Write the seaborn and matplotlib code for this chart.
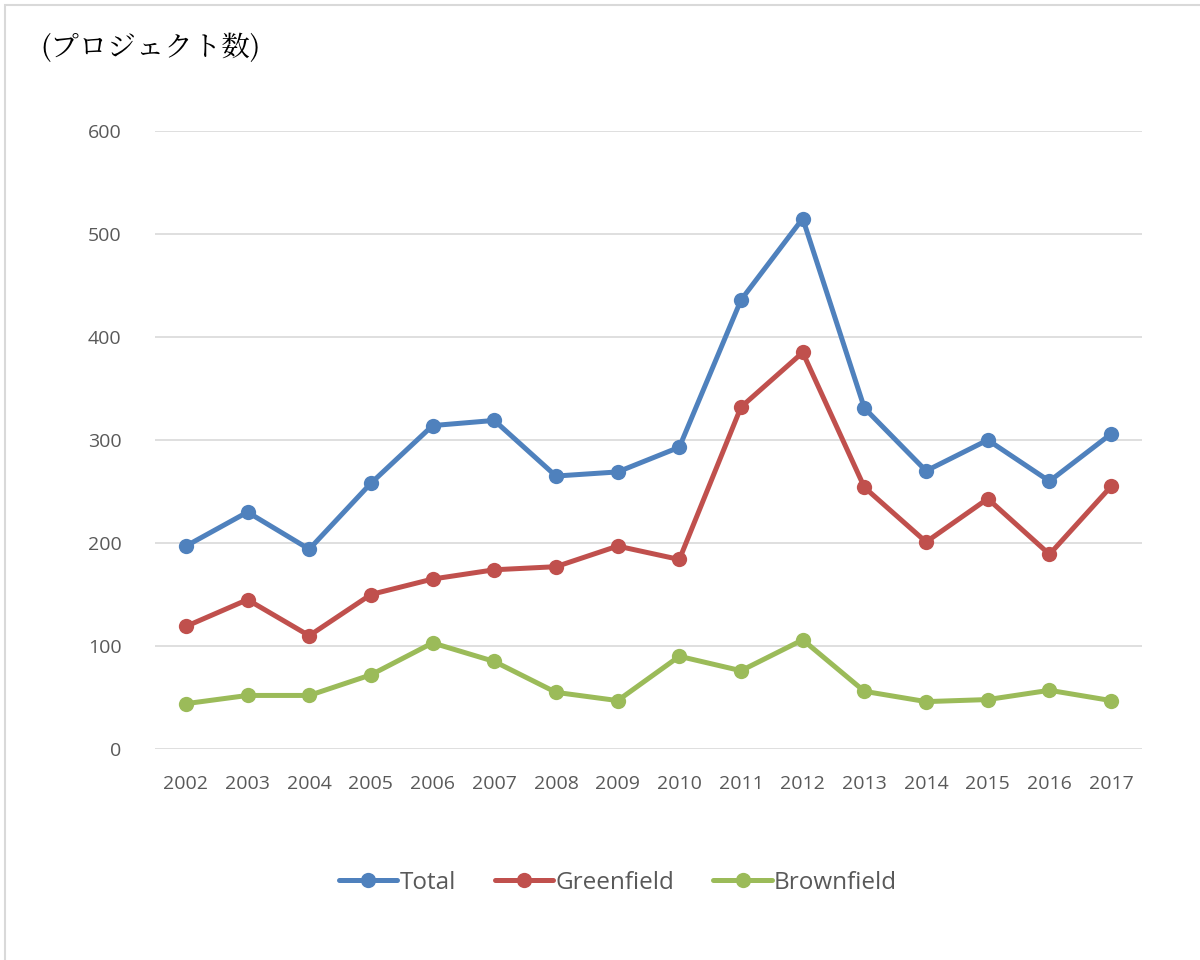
import matplotlib
matplotlib.use("Agg")
import matplotlib.pyplot as plt
import matplotlib.patches as mpatches
import seaborn as sns
import pandas as pd

years = ["2002", "2003", "2004", "2005", "2006", "2007", "2008", "2009",
         "2010", "2011", "2012", "2013", "2014", "2015", "2016", "2017"]
total = [197, 230, 194, 258, 314, 319, 265, 269, 293, 436, 515, 331, 270, 300, 260, 306]
greenfield = [119, 145, 110, 150, 165, 174, 177, 197, 184, 332, 385, 254, 201, 243, 189, 255]
brownfield = [44, 52, 52, 72, 103, 85, 55, 47, 90, 76, 106, 56, 46, 48, 57, 47]

series_names = ["Total", "Greenfield", "Brownfield"]
colors = ["#4F81BD", "#C0504D", "#9BBB59"]

sns.set_theme(style="white")
plt.rcParams["font.family"] = ["Open Sans", "Noto Sans CJK JP", "DejaVu Sans"]

df = pd.DataFrame({
    "pos": list(range(len(years))) * 3,
    "value": total + greenfield + brownfield,
    "series": [n for n in series_names for _ in years],
})

fig = plt.figure(figsize=(12, 9.6), dpi=100)
ax = fig.add_axes([155 / 1200, 1 - 749 / 960, (1142 - 155) / 1200, (749 - 131) / 960])

sns.lineplot(data=df, x="pos", y="value", hue="series", hue_order=series_names,
             palette=colors, marker="o", markersize=11, markeredgewidth=0,
             linewidth=3.6, ax=ax, legend=False)

ax.set_xlim(-0.5, len(years) - 0.5)
ax.set_ylim(0, 600)
ax.set_yticks(range(0, 601, 100))
ax.set_xticks(range(len(years)))
ax.set_xticklabels(years)
ax.set_xlabel("")
ax.set_ylabel("")
ax.grid(axis="y", color="#D9D9D9", linewidth=1.2)
ax.set_axisbelow(True)
for s in ax.spines.values():
    s.set_visible(False)
ax.tick_params(axis="both", length=0, labelsize=14, colors="#595959")
ax.tick_params(axis="x", pad=19)
ax.tick_params(axis="y", pad=24)

fig.text(40 / 1200, 1 - 48 / 960, "(プロジェクト数)", fontsize=20.5,
         family=["Noto Serif CJK JP", "Noto Sans CJK JP", "DejaVu Sans"],
         ha="left", va="center", color="#000000")

handles = [plt.Line2D([], [], color=c, linewidth=3.6, marker="o", markersize=11,
                      markeredgewidth=0) for c in colors]
fig.legend(handles, series_names, loc="center", bbox_to_anchor=(618 / 1200, 1 - 883 / 960),
           ncol=3, frameon=False, fontsize=17.5, handlelength=2.4, columnspacing=1.6,
           handletextpad=0.1, labelcolor="#595959")

# outer frame of the chart area
fig.patches.append(mpatches.Rectangle((5 / 1200, -0.05), 1.1, 1 - 5 / 960 + 0.05,
                                      transform=fig.transFigure, fill=False,
                                      edgecolor="#D9D9D9", linewidth=1.5))

fig.savefig("out.png", dpi=100)
